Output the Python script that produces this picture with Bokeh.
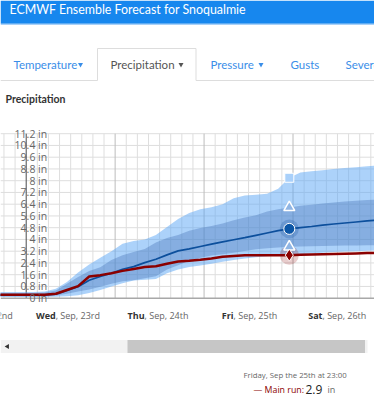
import math
from datetime import datetime, timedelta
from bokeh.plotting import figure
from bokeh.models import Range1d, Grid, FixedTicker
from bokeh.layouts import column
from bokeh.embed import file_html
from bokeh.resources import INLINE
from bokeh.core.properties import value

# ---------------- data ----------------
forecast_start = datetime(2020, 9, 23, 0, 0)   # Wed, Sep 23rd 00:00 (local)
hours = [-10, -7, -4, -1, 2, 5, 8, 11, 14, 17, 20, 23, 26, 29, 32, 35, 38, 41,
         44, 47, 50, 53, 56, 59, 62, 65, 68, 71, 74, 77, 80, 83, 86, 89, 92, 95]
main_run = [0.23, 0.23, 0.23, 0.23, 0.23, 0.24, 0.30, 0.56, 0.82, 1.48, 1.57, 1.70,
            1.86, 1.99, 2.12, 2.17, 2.35, 2.50, 2.55, 2.62, 2.70, 2.82, 2.88, 2.92,
            2.92, 2.92, 2.93, 2.93, 2.95, 2.97, 2.99, 3.01, 3.03, 3.05, 3.07, 3.08]
ens_mean = [0.21, 0.21, 0.21, 0.21, 0.21, 0.22, 0.28, 0.52, 0.78, 1.22, 1.48, 1.70,
            1.97, 2.15, 2.42, 2.65, 2.95, 3.22, 3.36, 3.52, 3.68, 3.83, 3.98, 4.12,
            4.28, 4.44, 4.60, 4.72, 4.80, 4.88, 4.97, 5.05, 5.12, 5.19, 5.26, 5.32]
ens_p25 = [0.14, 0.14, 0.14, 0.14, 0.14, 0.15, 0.18, 0.30, 0.45, 0.60, 0.78, 0.98,
           1.15, 1.22, 1.35, 1.50, 1.95, 2.25, 2.55, 2.75, 2.90, 3.00, 3.10, 3.22,
           3.33, 3.40, 3.46, 3.50, 3.52, 3.54, 3.56, 3.57, 3.58, 3.59, 3.60, 3.60]
ens_p75 = [0.36, 0.36, 0.36, 0.36, 0.36, 0.38, 0.52, 0.98, 1.45, 1.85, 2.10, 2.60,
           2.92, 3.15, 3.35, 3.80, 4.10, 4.30, 4.60, 4.78, 4.92, 5.08, 5.30, 5.50,
           5.65, 5.90, 6.05, 6.18, 6.30, 6.37, 6.45, 6.52, 6.58, 6.64, 6.69, 6.72]
ens_p10 = [0.08, 0.08, 0.08, 0.08, 0.08, 0.09, 0.10, 0.14, 0.20, 0.35, 0.55, 0.80,
           1.02, 1.20, 1.26, 1.30, 1.70, 1.95, 2.12, 2.22, 2.35, 2.48, 2.60, 2.70,
           2.78, 2.85, 2.90, 2.95, 3.00, 3.05, 3.10, 3.14, 3.18, 3.20, 3.23, 3.25]
ens_p90 = [0.42, 0.42, 0.42, 0.42, 0.42, 0.45, 0.65, 1.10, 1.75, 2.30, 2.75, 3.20,
           3.70, 3.90, 4.00, 4.30, 4.85, 5.40, 5.80, 6.05, 6.20, 6.40, 6.80, 7.00,
           7.05, 7.12, 7.45, 8.20, 8.55, 8.65, 8.72, 8.80, 8.86, 8.92, 8.98, 9.03]
hover_hour = 71
ytick_values = [0, 0.8, 1.6, 2.4, 3.2, 4, 4.8, 5.6, 6.4, 7.2, 8, 8.8, 9.6, 10.4, 11.2]
day_offsets = [-1, 0, 1, 2, 3]
day_bold = ["Tue", "Wed", "Thu", "Fri", "Sat"]
day_rest = [", Sep, 22nd", ", Sep, 23rd", ", Sep, 24th", ", Sep, 25th", ", Sep, 26th"]
page_title = "ECMWF Ensemble Forecast for Snoqualmie"
tab_labels = ["Temperature", "Precipitation", "Pressure", "Gusts", "Severe"]
section_title = "Precipitation"

# ---------------- styles ----------------
W = 374
FONT = value("Lato")
AX_FONT = value("Open Sans")
BLUE_TXT = "#3a8ee8"
TOP_H = 127          # page pixels used by header / tabs
CHART_BOTTOM = 305   # page y where the chart figure ends


def bare(p):
    p.outline_line_color = None
    p.min_border = 0
    p.min_border_left = p.min_border_right = 0
    p.min_border_top = p.min_border_bottom = 0
    p.background_fill_color = "white"
    p.border_fill_color = "white"
    p.xgrid.visible = False
    p.ygrid.visible = False
    return p


# ---------------- page header / tabs (pixel coordinates) ----------------
top = bare(figure(width=W, height=TOP_H, x_range=Range1d(0, W), y_range=Range1d(TOP_H, 0),
                  x_axis_location=None, y_axis_location=None, toolbar_location=None,
                  output_backend="svg"))
top.quad(left=[0], right=[W], top=[0], bottom=[23.3], fill_color="#1787ee", line_color=None)
top.quad(left=[0], right=[W], top=[23.3], bottom=[24.3], fill_color="#8cc2f6", line_color=None)
top.text(x=[9], y=[8.8], text=[page_title], text_font=FONT, text_font_size="12.4px",
         text_color="white", text_baseline="middle")

tab_x = [13, 110, 210, 290, 345]
tab_colors = [BLUE_TXT, "#555555", BLUE_TXT, BLUE_TXT, BLUE_TXT]
top.line(x=[0, 97], y=[80, 80], line_color="#dddddd", line_width=1)
top.line(x=[195.5, W], y=[80, 80], line_color="#dddddd", line_width=1)
top.line(x=[97, 97, 195.5, 195.5], y=[80, 48, 48, 80], line_color="#dddddd", line_width=1)
top.text(x=tab_x, y=[64] * len(tab_x), text=tab_labels, text_font=FONT,
         text_font_size="11.5px", text_color=tab_colors, text_baseline="middle")
top.scatter(x=[80, 180.5, 260.5], y=[64, 64, 64], marker="inverted_triangle", size=5,
            fill_color=[BLUE_TXT, "#555555", BLUE_TXT], line_color=None)
top.text(x=[5], y=[98], text=[section_title], text_font=FONT, text_font_size="10.5px",
         text_font_style="bold", text_color="#333333", text_baseline="middle")

# ---------------- chart ----------------
PX_PER_H = 3.7056
x0 = -25.7 / PX_PER_H
x1 = x0 + W / PX_PER_H
xr = Range1d(x0, x1)
PX_PER_IN = 164.5 / 11.2
Y_ZERO_PAGE = 297.7
y_lo = -(CHART_BOTTOM - Y_ZERO_PAGE) / PX_PER_IN
y_hi = (Y_ZERO_PAGE - TOP_H) / PX_PER_IN
yr = Range1d(y_lo, y_hi)

p = bare(figure(width=W, height=CHART_BOTTOM - TOP_H, x_range=xr, y_range=yr,
                x_axis_location=None, y_axis_location=None, toolbar_location=None,
                output_backend="svg"))
ymax = ytick_values[-1]
hgrid = ytick_values[1:]
p.segment(x0=[x0] * len(hgrid), x1=[x1] * len(hgrid), y0=hgrid, y1=hgrid,
          line_color="#dedede", line_width=1)

minor_h = [h for h in range(-12, 97, 3) if h % 24 != 0]
major_h = [h for h in range(24, 97, 24)]
p.segment(x0=minor_h, x1=minor_h, y0=[0] * len(minor_h), y1=[ymax] * len(minor_h),
          line_color="#dedede", line_width=1)
p.segment(x0=major_h, x1=major_h, y0=[0] * len(major_h), y1=[ymax] * len(major_h),
          line_color="#bcbcbc", line_width=1)
p.segment(x0=[0], x1=[0], y0=[0], y1=[ymax], line_color="#4a4a4a", line_width=1)
p.segment(x0=[x0], x1=[x1], y0=[0], y1=[0], line_color="#a8a8a8", line_width=1.5)

p.varea(x=hours, y1=ens_p10, y2=ens_p90, fill_color="#5aa5f5", fill_alpha=0.5)
p.varea(x=hours, y1=ens_p25, y2=ens_p75, fill_color="#406eb3", fill_alpha=0.35)
p.line(x=hours, y=ens_mean, line_color="#0c4f9c", line_width=1.7)
p.line(x=hours, y=main_run, line_color="#8b0000", line_width=2.5)

i = hours.index(hover_hour)
hx = hours[i]
p.scatter(x=[hx], y=[ens_mean[i]], size=19, fill_color="#0c4f9c", fill_alpha=0.22, line_color=None)
p.scatter(x=[hx], y=[main_run[i]], size=19, fill_color="#8b0000", fill_alpha=0.2, line_color=None)
p.scatter(x=[hx], y=[ens_p90[i]], marker="square", size=9, fill_color="#a9d0fa",
          line_color="white", line_width=1)
p.scatter(x=[hx, hx], y=[ens_p75[i], ens_p25[i]], marker="triangle", size=11,
          fill_color="#8fb5e4", line_color="white", line_width=1.5)
p.scatter(x=[hx], y=[ens_mean[i]], marker="circle", size=11, fill_color="#0c56a6",
          line_color="white", line_width=1)
p.scatter(x=[hx], y=[main_run[i]], marker="diamond", size=12, fill_color="#8b0000",
          line_color="white", line_width=1)

p.text(x=[0] * len(ytick_values), y=ytick_values, text=[f"{v:g} in" for v in ytick_values],
       x_offset=21, text_align="right", text_baseline="middle", text_font=AX_FONT,
       text_font_size="10.5px", text_color="#666666")

# ---------------- x labels, scrollbar, tooltip ----------------
b = bare(figure(width=W, height=400 - CHART_BOTTOM, x_range=xr,
                y_range=Range1d(400, CHART_BOTTOM),
                x_axis_location=None, y_axis_location=None, toolbar_location=None,
                output_backend="svg"))
b.extra_x_ranges = {"px": Range1d(0, W)}
noon = [24 * d + 12 for d in day_offsets]
b.text(x=noon, y=[315] * len(noon), text=day_bold, x_offset=-15, text_align="right",
       text_baseline="middle", text_font=AX_FONT, text_font_size="9px",
       text_font_style="bold", text_color="#333333")
b.text(x=noon, y=[315] * len(noon), text=day_rest, x_offset=-15, text_align="left",
       text_baseline="middle", text_font=AX_FONT, text_font_size="9px", text_color="#666666")

b.quad(left=[0], right=[367], top=[339.5], bottom=[352.5], fill_color="#f2f2f2",
       line_color=None, x_range_name="px")
b.quad(left=[127], right=[364.5], top=[339.5], bottom=[352.5], fill_color="#c6c6c6",
       line_color=None, x_range_name="px")
b.scatter(x=[7], y=[346], marker="triangle", angle=math.pi / 2, size=5,
          fill_color="#333333", line_color=None, x_range_name="px")

t = forecast_start + timedelta(hours=hover_hour)
suffix = {1: "st", 2: "nd", 3: "rd"}.get(t.day % 10 if t.day not in (11, 12, 13) else 0, "th")
tip_time = f"{t:%A}, {t:%b} the {t.day}{suffix} at {t:%H:%M}"
b.text(x=[243], y=[374], text=[tip_time], text_font=AX_FONT, text_font_size="7.8px",
       text_color="#666666", text_baseline="middle", x_range_name="px")
b.text(x=[253], y=[389], text=["\u2014 Main run:"], text_font=AX_FONT, text_font_size="8.8px",
       text_color="#8b0000", text_baseline="middle", x_range_name="px")
b.text(x=[305], y=[388.5], text=[f"{main_run[i]:.1f}"], text_font=AX_FONT, text_font_size="12px",
       text_color="#222222", text_baseline="middle", x_range_name="px")
b.text(x=[327], y=[389], text=["in"], text_font=AX_FONT, text_font_size="9px",
       text_color="#666666", text_baseline="middle", x_range_name="px")

page = column(top, p, b, spacing=0)
open("out.html", "w").write(file_html(page, INLINE))
